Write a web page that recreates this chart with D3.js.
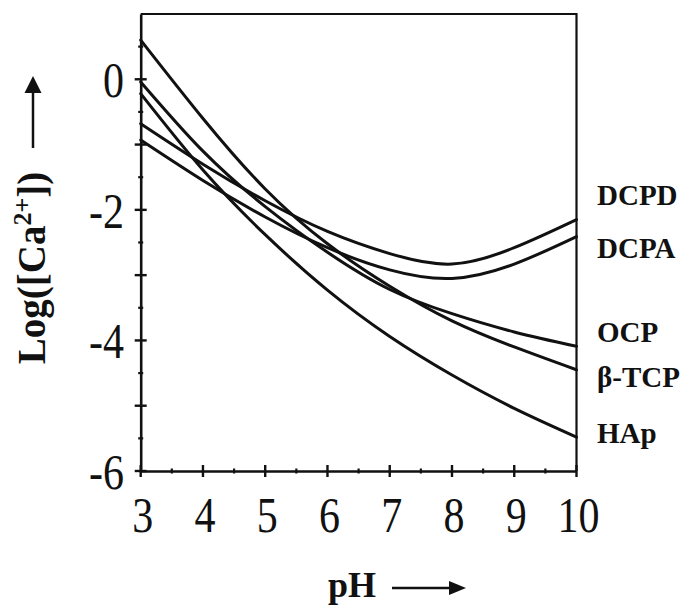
<!DOCTYPE html>
<html>
<head>
<meta charset="utf-8">
<script src="https://cdn.jsdelivr.net/npm/d3@7"></script>
<style>
  html, body { margin: 0; padding: 0; background: #fff; }
  svg { display: block; }
</style>
</head>
<body>
<svg id="chart" width="685" height="606"></svg>
<script>
// ---------------- data ----------------
const pH = [3, 4, 5, 6, 7, 8, 9, 10];
const DCPD = [-0.68, -1.30, -1.86, -2.33, -2.67, -2.83, -2.58, -2.15];
const DCPA = [-0.93, -1.55, -2.11, -2.58, -2.92, -3.05, -2.83, -2.41];
const OCP  = [-0.04, -1.10, -1.95, -2.65, -3.22, -3.59, -3.87, -4.09];
const TCP  = [ 0.60, -0.60, -1.68, -2.52, -3.17, -3.70, -4.10, -4.45];
const HAp  = [-0.22, -1.39, -2.38, -3.23, -3.94, -4.53, -5.04, -5.48];
const seriesNames = ["DCPD", "DCPA", "OCP", "β-TCP", "HAp"];
const seriesValues = [DCPD, DCPA, OCP, TCP, HAp];
const xTickLabels = [3, 4, 5, 6, 7, 8, 9, 10];
const yTickLabels = [0, -2, -4, -6];

// ---------------- layout ----------------
const svg = d3.select("#chart");
const X0 = 140.7, X1 = 576.5, YTOP = 14, YBOT = 471;
const x = d3.scaleLinear().domain([3, 10]).range([X0, X1]);
const y = d3.scaleLinear().domain([-6, 1]).range([YBOT, YTOP]);
const ink = "#111";
const serif = "'Liberation Serif', 'Times New Roman', serif";

svg.append("rect").attr("width", 685).attr("height", 606).attr("fill", "#fff");

// frame: top and right
svg.append("path")
  .attr("d", `M${X0},${y(1)} L${X1},${y(1)} L${X1},${y(-6)}`)
  .attr("fill", "none").attr("stroke", ink).attr("stroke-width", 2.2);

// axes via d3 axis generators (lines only), then custom crossing ticks
const gx = svg.append("g").attr("transform", `translate(0,${y(-6)})`)
  .call(d3.axisBottom(x).tickValues([]).tickSize(0).tickSizeOuter(0));
gx.select(".domain").attr("stroke", ink).attr("stroke-width", 2.6);
const gy = svg.append("g").attr("transform", `translate(${X0},0)`)
  .call(d3.axisLeft(y).tickValues([]).tickSize(0).tickSizeOuter(0));
gy.select(".domain").attr("stroke", ink).attr("stroke-width", 2.6);

// x ticks
d3.range(3, 10.01, 0.5).forEach(v => {
  const major = Math.abs(v - Math.round(v)) < 1e-6;
  const h = major ? 6 : 2.5;
  svg.append("line").attr("x1", x(v)).attr("x2", x(v))
    .attr("y1", y(-6) - h).attr("y2", y(-6) + h)
    .attr("stroke", ink).attr("stroke-width", major ? 2.4 : 2.2);
});
// y ticks
d3.range(-6, 0.51, 0.5).forEach(v => {
  const major = Math.abs(v - Math.round(v)) < 1e-6;
  const h = major ? 6 : 2.5;
  svg.append("line").attr("y1", y(v)).attr("y2", y(v))
    .attr("x1", X0 - h).attr("x2", X0 + h)
    .attr("stroke", ink).attr("stroke-width", major ? 2.4 : 2.2);
});

// tick labels (tall serif digits)
xTickLabels.forEach(v => {
  svg.append("text")
    .attr("transform", `translate(${x(v) + 2},532) scale(1,1.2)`)
    .attr("text-anchor", "middle")
    .attr("font-family", serif).attr("font-size", 42).attr("fill", ink)
    .text(v);
});
yTickLabels.forEach(v => {
  svg.append("text")
    .attr("transform", `translate(124,${y(v) + 18}) scale(1,1.2)`)
    .attr("text-anchor", "end")
    .attr("font-family", serif).attr("font-size", 42).attr("fill", ink)
    .text(v === 0 ? "0" : "-" + Math.abs(v));
});

// curves
const line = d3.line().x((d, i) => x(pH[i])).y(d => y(d)).curve(d3.curveNatural);
seriesValues.forEach(vals => {
  svg.append("path").attr("d", line(vals))
    .attr("fill", "none").attr("stroke", ink).attr("stroke-width", 3)
    .attr("stroke-linejoin", "round").attr("stroke-linecap", "round");
});

// series labels at right
const labelBaselines = [205, 258, 342, 387, 443];
seriesNames.forEach((n, i) => {
  svg.append("text").attr("x", 597).attr("y", labelBaselines[i])
    .attr("font-family", serif).attr("font-weight", "bold").attr("font-size", 29)
    .attr("fill", ink).text(n);
});

// x axis title with arrow
svg.append("text").attr("x", 328).attr("y", 597)
  .attr("font-family", serif).attr("font-weight", "bold").attr("font-size", 36)
  .attr("fill", ink).text("pH");
svg.append("line").attr("x1", 392).attr("x2", 452).attr("y1", 588).attr("y2", 588)
  .attr("stroke", ink).attr("stroke-width", 2.5);
svg.append("path").attr("d", "M449,581 L466,588 L449,595 Z").attr("fill", ink);

// y axis title with arrow
const yt = svg.append("text")
  .attr("transform", "translate(45,268) rotate(-90)")
  .attr("text-anchor", "middle")
  .attr("font-family", serif).attr("font-weight", "bold").attr("font-size", 39)
  .attr("fill", ink);
yt.append("tspan").text("Log([Ca");
yt.append("tspan").attr("font-size", 26).attr("dy", -14).text("2+");
yt.append("tspan").attr("dy", 14).text("])");
svg.append("line").attr("x1", 33).attr("x2", 33).attr("y1", 148).attr("y2", 90)
  .attr("stroke", ink).attr("stroke-width", 2.5);
svg.append("path").attr("d", "M24.5,93 L33,76 L41.5,93 Z").attr("fill", ink);
</script>
</body>
</html>
